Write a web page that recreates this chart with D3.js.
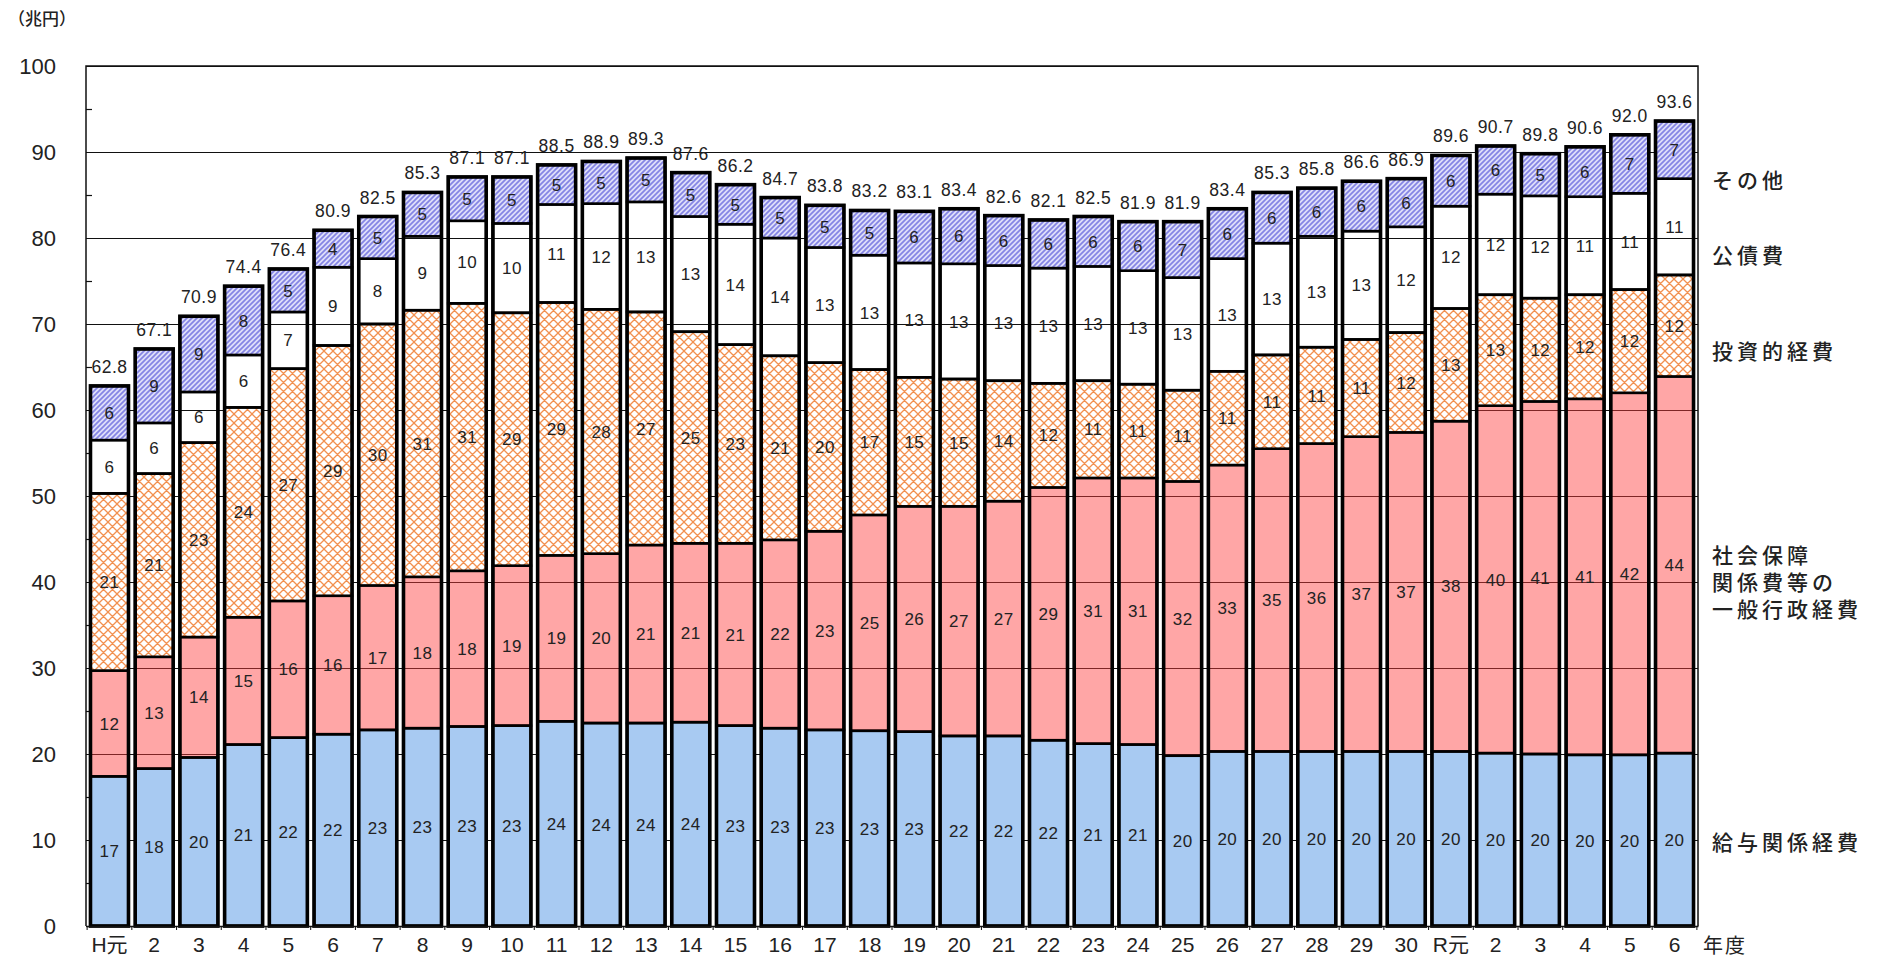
<!DOCTYPE html>
<html lang="ja">
<head>
<meta charset="utf-8">
<title>歳出の推移</title>
<script src="https://cdn.jsdelivr.net/npm/d3@7"></script>
<style>
  body { margin: 0; background: #fff; }
  svg text { font-family: "Liberation Sans", Arial, "Noto Sans CJK JP", sans-serif; fill: #222; }
  .jp { font-family: "Noto Sans CJK JP", sans-serif; }
</style>
</head>
<body>
<script>
// 年度
var categories = ["H元","2","3","4","5","6","7","8","9","10","11","12","13","14","15",
                  "16","17","18","19","20","21","22","23","24","25","26","27","28","29","30",
                  "R元","2","3","4","5","6"];

// 兆円
var salary = [17.4,18.3,19.6,21.1,21.9,22.3,22.8,23.0,23.2,23.3,23.8,23.6,23.6,23.7,23.3,
              23.0,22.8,22.7,22.6,22.1,22.1,21.6,21.2,21.1,19.8,20.3,20.3,20.3,20.3,20.3,
              20.3,20.1,20.0,19.9,19.9,20.1];
var social = [12.3,13.0,14.0,14.8,15.9,16.1,16.8,17.6,18.1,18.6,19.3,19.7,20.7,20.8,21.2,
              21.9,23.1,25.1,26.2,26.7,27.3,29.4,30.9,31.0,31.9,33.3,35.2,35.8,36.6,37.1,
              38.4,40.4,41.0,41.4,42.1,43.8];
var invest = [20.6,21.3,22.6,24.4,27.0,29.1,30.4,31.0,31.1,29.4,29.4,28.4,27.1,24.6,23.1,
              21.4,19.6,16.9,15.0,14.8,14.0,12.1,11.3,10.9,10.6,10.9,10.9,11.2,11.3,11.6,
              13.1,12.9,12.0,12.1,12.0,11.8];
var debt   = [6.2,5.9,5.9,6.1,6.6,9.1,7.6,8.6,9.6,10.4,11.4,12.3,12.8,13.4,14.0,
              13.7,13.4,13.3,13.3,13.4,13.4,13.4,13.3,13.2,13.1,13.1,13.0,12.9,12.6,12.3,
              11.9,11.7,11.9,11.4,11.2,11.2];
var other  = [6.3,8.6,8.8,8.0,5.0,4.3,4.9,5.1,5.1,5.4,4.6,4.9,5.1,5.1,4.6,
              4.7,4.9,5.2,6.0,6.4,5.8,5.6,5.8,5.7,6.5,5.8,5.9,5.6,5.8,5.6,
              5.9,5.6,4.9,5.8,6.8,6.7];
var totals = [62.8,67.1,70.9,74.4,76.4,80.9,82.5,85.3,87.1,87.1,88.5,88.9,89.3,87.6,86.2,
              84.7,83.8,83.2,83.1,83.4,82.6,82.1,82.5,81.9,81.9,83.4,85.3,85.8,86.6,86.9,
              89.6,90.7,89.8,90.6,92.0,93.6];

var seriesKeys = ["salary", "social", "invest", "debt", "other"];
var seriesNames = ["給与関係経費", "社会保障\n関係費等の\n一般行政経費", "投資的経費", "公債費", "その他"];
var yTicks = [0,10,20,30,40,50,60,70,80,90,100];

var w = 1885, h = 959;
var plotLeft = 86, plotRight = 1698, plotTop = 66, plotBottom = 926;

var svg = d3.select("body").append("svg")
    .attr("width", w)
    .attr("height", h);

// patterns
var defs = svg.append("defs");
var pHatch = defs.append("pattern")
    .attr("id", "invest").attr("patternUnits", "userSpaceOnUse")
    .attr("width", 9).attr("height", 9);
pHatch.append("rect").attr("width", 9).attr("height", 9).attr("fill", "#fff");
pHatch.append("path")
    .attr("d", "M0,0L9,9M9,0L0,9M-1,8L1,10M8,-1L10,1M-1,1L1,-1M8,10L10,8")
    .attr("stroke", "#f2904f").attr("stroke-width", 1.3);

var pStripe = defs.append("pattern")
    .attr("id", "other").attr("patternUnits", "userSpaceOnUse")
    .attr("width", 5).attr("height", 5);
pStripe.append("rect").attr("width", 5).attr("height", 5).attr("fill", "#dedefa");
pStripe.append("path")
    .attr("d", "M0,5L5,0M-1,1L1,-1M4,6L6,4")
    .attr("stroke", "#8484e4").attr("stroke-width", 1.7);

var fills = {
    salary: "#a8caf2",
    social: "rgba(255,60,60,0.46)",
    invest: "url(#invest)",
    debt: "rgba(255,255,255,0)",
    other: "url(#other)"
};

// scales
var x = d3.scaleBand()
    .domain(d3.range(categories.length))
    .range([plotLeft, plotRight])
    .paddingInner(0.15)
    .paddingOuter(0.1);

var y = d3.scaleLinear()
    .domain([0, 100])
    .range([plotBottom, plotTop]);

// gridlines + y axis
var yAxis = svg.append("g")
    .attr("transform", "translate(" + plotLeft + ",0)")
    .call(d3.axisLeft(y).tickValues(yTicks).tickSize(-(plotRight - plotLeft)).tickPadding(30));
yAxis.select(".domain").remove();
yAxis.selectAll(".tick line").attr("stroke", "#111").attr("stroke-width", 1.2);
yAxis.selectAll(".tick text").attr("font-size", 22).attr("fill", "#222");

// minor ticks
var minor = svg.append("g")
    .attr("transform", "translate(" + plotLeft + ",0)")
    .call(d3.axisLeft(y).tickValues(d3.range(5, 100, 10)).tickSize(-6).tickFormat(""));
minor.select(".domain").remove();
minor.selectAll(".tick line").attr("stroke", "#111").attr("stroke-width", 1.2);

// frame
svg.append("path")
    .attr("d", "M" + plotLeft + "," + plotBottom + "V" + plotTop + "H" + plotRight + "V" + plotBottom)
    .attr("fill", "none").attr("stroke", "#111").attr("stroke-width", 1.5);

// stacked data
var rows = categories.map(function(c, i) {
    return { i: i, salary: salary[i], social: social[i], invest: invest[i], debt: debt[i], other: other[i] };
});
var stacked = d3.stack().keys(seriesKeys)(rows);

var layers = svg.selectAll("g.layer")
    .data(stacked)
    .enter().append("g")
    .attr("class", "layer");

layers.selectAll("rect")
    .data(function(d) { return d.map(function(p) { p.key = d.key; return p; }); })
    .enter().append("rect")
    .attr("x", function(d) { return x(d.data.i); })
    .attr("y", function(d) { return y(d[1]); })
    .attr("width", x.bandwidth())
    .attr("height", function(d) { return y(d[0]) - y(d[1]); })
    .attr("fill", function(d) { return fills[d.key]; })
    .attr("stroke", "#000")
    .attr("stroke-width", 2.6);

// outer bar outline
svg.append("g").selectAll("rect")
    .data(rows)
    .enter().append("rect")
    .attr("x", function(d) { return x(d.i); })
    .attr("y", function(d) { return y(totals[d.i]); })
    .attr("width", x.bandwidth())
    .attr("height", function(d) { return plotBottom - y(totals[d.i]); })
    .attr("fill", "none")
    .attr("stroke", "#000")
    .attr("stroke-width", 3.6);

// segment labels
layers.selectAll("text")
    .data(function(d) { return d; })
    .enter().append("text")
    .attr("x", function(d) { return x(d.data.i) + x.bandwidth() / 2; })
    .attr("y", function(d) { return (y(d[0]) + y(d[1])) / 2; })
    .attr("dy", "0.36em")
    .attr("text-anchor", "middle")
    .attr("font-size", 17)
    .attr("letter-spacing", 0.5)
    .text(function(d) { return Math.round(d[1] - d[0]); });

// totals
svg.append("g").selectAll("text")
    .data(rows)
    .enter().append("text")
    .attr("x", function(d) { return x(d.i) + x.bandwidth() / 2; })
    .attr("y", function(d) { return y(totals[d.i]) - 13; })
    .attr("text-anchor", "middle")
    .attr("font-size", 17.5)
    .attr("letter-spacing", 0.5)
    .text(function(d) { return totals[d.i].toFixed(1); });

// x axis labels
var xAxis = svg.append("g")
    .attr("transform", "translate(0," + plotBottom + ")")
    .call(d3.axisBottom(x).tickSize(0).tickPadding(11).tickFormat(function(i) { return categories[i]; }));
xAxis.select(".domain").attr("stroke", "#111").attr("stroke-width", 1.5);
xAxis.selectAll(".tick text").attr("font-size", 21).attr("fill", "#222")
    .style("font-family", "'Liberation Sans', Arial, 'Noto Sans CJK JP', sans-serif");

// small ticks between bars
svg.append("g").selectAll("line")
    .data(d3.range(categories.length + 1))
    .enter().append("line")
    .attr("x1", function(i) { return plotLeft + x.step() * x.paddingOuter() + x.step() * i - x.step() * x.paddingInner() / 2; })
    .attr("x2", function(i) { return plotLeft + x.step() * x.paddingOuter() + x.step() * i - x.step() * x.paddingInner() / 2; })
    .attr("y1", plotBottom)
    .attr("y2", plotBottom + 4)
    .attr("stroke", "#111");

svg.append("text").attr("class", "jp")
    .attr("x", 1703).attr("y", 953)
    .attr("font-size", 20).attr("letter-spacing", 2)
    .text("年度");

svg.append("text").attr("class", "jp")
    .attr("x", 8).attr("y", 25)
    .attr("font-size", 17)
    .attr("font-weight", 500)
    .text("（兆円）");

// series names on the right
var namePos = { salary: [842], social: [555, 582, 609], invest: [351], debt: [255], other: [180] };
seriesKeys.forEach(function(k, i) {
    var lines = seriesNames[i].split("\n");
    lines.forEach(function(t, j) {
        svg.append("text").attr("class", "jp")
            .attr("x", 1712)
            .attr("y", namePos[k][j])
            .attr("dy", "0.36em")
            .attr("font-size", 21)
            .attr("font-weight", 500)
            .attr("letter-spacing", 4)
            .text(t);
    });
});
</script>
</body>
</html>
